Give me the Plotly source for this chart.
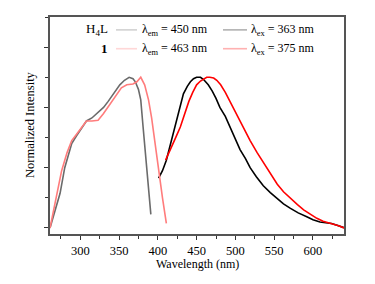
import plotly.graph_objects as go

# Excitation spectra (left curves)
h4l_exc_x = [261, 268, 274, 280, 285, 289, 295, 302, 308, 315, 323, 330, 336, 343, 351, 357, 363, 368, 371, 375, 378, 381, 384, 386, 389, 391]
h4l_exc_y = [0.0, 0.12, 0.23, 0.40, 0.49, 0.56, 0.61, 0.66, 0.71, 0.73, 0.77, 0.80, 0.84, 0.89, 0.95, 0.98, 1.0, 0.99, 0.97, 0.92, 0.85, 0.67, 0.50, 0.38, 0.22, 0.09]

c1_exc_x = [261, 268, 276, 283, 289, 295, 302, 308, 315, 323, 330, 338, 345, 353, 360, 368, 373, 378, 383, 388, 392, 396, 401, 406, 411]
c1_exc_y = [0.0, 0.18, 0.38, 0.50, 0.58, 0.62, 0.67, 0.71, 0.71, 0.715, 0.76, 0.82, 0.87, 0.93, 0.95, 0.955, 0.97, 1.0, 0.95, 0.85, 0.73, 0.57, 0.38, 0.20, 0.03]

# Emission spectra (right curves)
h4l_em_x = [401, 406, 411, 416, 422, 428, 433, 438, 442, 446, 450, 455, 459, 465, 470, 475, 480, 487, 493, 500, 506, 513, 519, 527, 536, 545, 554, 562, 571, 581, 592, 600, 609, 617, 624, 632, 640]
h4l_em_y = [0.33, 0.38, 0.45, 0.55, 0.67, 0.80, 0.89, 0.94, 0.97, 0.99, 1.0, 1.0, 0.985, 0.95, 0.91, 0.86, 0.80, 0.74, 0.67, 0.59, 0.52, 0.46, 0.40, 0.34, 0.28, 0.235, 0.195, 0.16, 0.13, 0.10, 0.074, 0.055, 0.04, 0.035, 0.03, 0.017, 0.002]

c1_em_x = [410, 414, 418, 423, 429, 434, 440, 445, 450, 455, 459, 463, 467, 472, 476, 481, 487, 494, 502, 510, 519, 528, 537, 545, 554, 562, 571, 580, 588, 597, 605, 613, 620, 626, 633, 640]
c1_em_y = [0.45, 0.50, 0.55, 0.60, 0.67, 0.75, 0.84, 0.90, 0.95, 0.975, 0.99, 1.0, 1.0, 0.995, 0.98, 0.95, 0.90, 0.83, 0.75, 0.66, 0.58, 0.50, 0.43, 0.36, 0.29, 0.24, 0.195, 0.155, 0.12, 0.09, 0.064, 0.045, 0.035, 0.03, 0.015, 0.0]

legend_rows = ["H<sub>4</sub>L", "<b>1</b>"]
legend_labels = [["λ<sub>em</sub> = 450 nm", "λ<sub>ex</sub> = 363 nm"],
                 ["λ<sub>em</sub> = 463 nm", "λ<sub>ex</sub> = 375 nm"]]
colors = [["#6b6b6b", "#000000"], ["#ff7c7c", "#ff0000"]]

FONT = "Liberation Serif"

fig = go.Figure()
series = [(h4l_exc_x, h4l_exc_y, colors[0][0]), (h4l_em_x, h4l_em_y, colors[0][1]),
          (c1_exc_x, c1_exc_y, colors[1][0]), (c1_em_x, c1_em_y, colors[1][1])]
for xs, ys, c in series:
    fig.add_trace(go.Scatter(x=xs, y=ys, mode="lines", line=dict(color=c, width=1.6),
                             showlegend=False, hoverinfo="skip"))

OFF = 8  # page body margin
W, H = 375 - OFF, 284 - OFF
PL, PR, PT, PB = 50, 344, 15, 234  # plot area in page pixels
L, T = PL - OFF, PT - OFF
R = W - (PR - OFF)
B = H - (PB - OFF)
pw, ph = PR - PL, PB - PT

def px2paper(px, py):
    return (px - PL) / pw, (PB - py) / ph

shapes = []
annotations = []
row_y = [28, 47]
for i in range(2):
    yy = row_y[i]
    xr, yp = px2paper(110, yy)
    annotations.append(dict(x=xr, y=yp, xref="paper", yref="paper", text=legend_rows[i],
                            showarrow=False, xanchor="right", yanchor="middle",
                            font=dict(family=FONT, size=13, color="#000")))
    for j, (x0, x1, xt) in enumerate([(116, 137, 140), (223, 247, 249)]):
        a0, b0 = px2paper(x0, yy)
        a1, _ = px2paper(x1, yy)
        shapes.append(dict(type="line", xref="paper", yref="paper", x0=a0, x1=a1, y0=b0, y1=b0,
                           line=dict(color=colors[i][j], width=1.6)))
        at, _ = px2paper(xt, yy)
        annotations.append(dict(x=at, y=b0, xref="paper", yref="paper", text=legend_labels[i][j],
                                showarrow=False, xanchor="left", yanchor="middle",
                                font=dict(family=FONT, size=12, color="#000")))

# axis titles
tx, ty = px2paper(197, 264)
annotations.append(dict(x=tx, y=ty, xref="paper", yref="paper", text="Wavelength (nm)",
                        showarrow=False, xanchor="center", yanchor="middle",
                        font=dict(family=FONT, size=12, color="#000")))
yx, yy2 = px2paper(30, 124)
annotations.append(dict(x=yx, y=yy2, xref="paper", yref="paper", text="Normalized Intensity",
                        showarrow=False, xanchor="center", yanchor="middle", textangle=-90,
                        font=dict(family=FONT, size=12.5, color="#000")))

fig.update_layout(
    template="simple_white",
    width=W, height=H,
    margin=dict(l=L, r=R, t=T, b=B),
    shapes=shapes, annotations=annotations,
    font=dict(family=FONT, size=12, color="#000"),
)
fig.update_xaxes(range=[261, 640], tick0=300, dtick=50, ticks="outside", ticklen=4, tickwidth=1,
                 tickcolor="#333", showline=True, linecolor="#555555", linewidth=1.8, mirror=True,
                 showgrid=False, zeroline=False,
                 minor=dict(dtick=25, tick0=300, ticks="outside", ticklen=3, tickwidth=1,
                            tickcolor="#333", showgrid=False),
                 tickfont=dict(family=FONT, size=12.5, color="#000"))
fig.update_yaxes(range=[-0.04, 1.4], tick0=0, dtick=0.4, ticks="outside", ticklen=4, tickwidth=1,
                 tickcolor="#333", showline=True, linecolor="#555555", linewidth=1.8, mirror=True,
                 showgrid=False, zeroline=False, showticklabels=False,
                 minor=dict(dtick=0.2, tick0=0, ticks="outside", ticklen=3, tickwidth=1,
                            tickcolor="#333", showgrid=False))

fig.write_html("out.html")
